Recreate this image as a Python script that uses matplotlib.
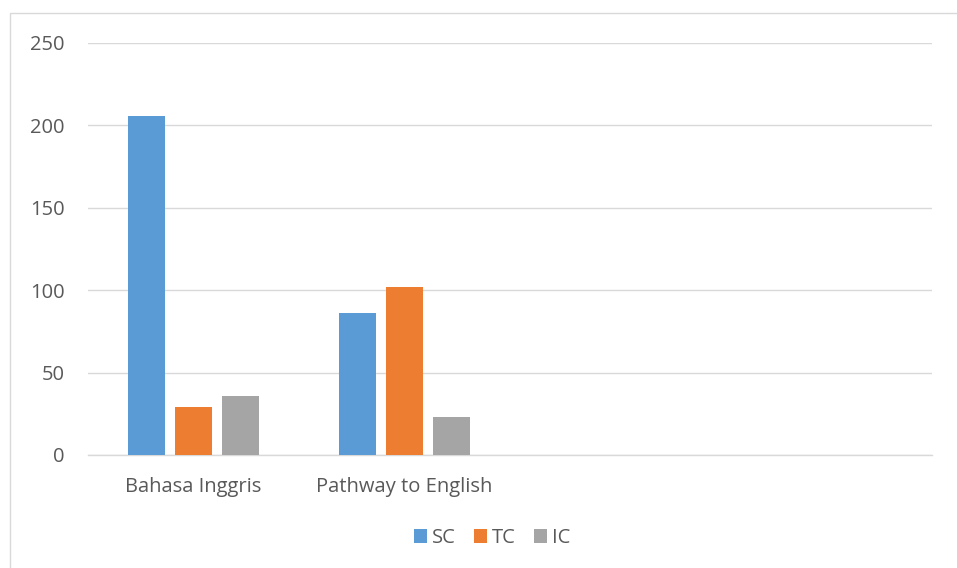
import matplotlib.pyplot as plt
from matplotlib.patches import Rectangle
import numpy as np

categories = ["Bahasa Inggris", "Pathway to English", "", ""]
series_names = ["SC", "TC", "IC"]
sc_values = [206, 86, None, None]
tc_values = [29, 102, None, None]
ic_values = [36, 23, None, None]
colors = ["#5B9BD5", "#ED7D31", "#A5A5A5"]
y_ticks = [0, 50, 100, 150, 200, 250]

plt.rcParams["font.family"] = ["Open Sans", "DejaVu Sans"]

W, H = 957, 568
fig = plt.figure(figsize=(W / 100, H / 100), dpi=100)
fig.patches.append(Rectangle((10 / W, -0.1), 1.2, 1 - 13 / H + 0.1, transform=fig.transFigure,
                             fill=False, edgecolor="#d9d9d9", linewidth=1.0))

ax = fig.add_axes([88 / W, 1 - 455 / H, (932 - 88) / W, (455 - 43) / H])
x = np.arange(len(categories))
width = 0.175
step = 0.223
for i, (name, vals) in enumerate(zip(series_names, [sc_values, tc_values, ic_values])):
    xs = [xi + (i - 1) * step for xi, v in zip(x, vals) if v is not None]
    hs = [v for v in vals if v is not None]
    ax.bar(xs, hs, width=width, color=colors[i], label=name, zorder=3)

ax.set_xlim(-0.5, len(categories) - 0.5)
ax.set_ylim(0, 250)
ax.set_yticks(y_ticks)
ax.set_xticks(x[:2])
ax.set_xticklabels(categories[:2])
ax.grid(axis="y", color="#d9d9d9", linewidth=1.0, zorder=0)
for s in ["top", "right", "left"]:
    ax.spines[s].set_visible(False)
ax.spines["bottom"].set_color("#d9d9d9")
ax.spines["bottom"].set_linewidth(1.0)
ax.tick_params(axis="both", length=0, colors="#595959", labelsize=14.5)
ax.tick_params(axis="y", pad=17)
ax.tick_params(axis="x", pad=16)

ax.legend(loc="center", bbox_to_anchor=(492 / W, 1 - 538 / H), bbox_transform=fig.transFigure,
          ncol=3, frameon=False, fontsize=14.5, handlelength=0.65, handleheight=0.65,
          handletextpad=0.25, columnspacing=0.9, labelcolor="#595959")

fig.savefig("out.png", dpi=100, facecolor="white")
